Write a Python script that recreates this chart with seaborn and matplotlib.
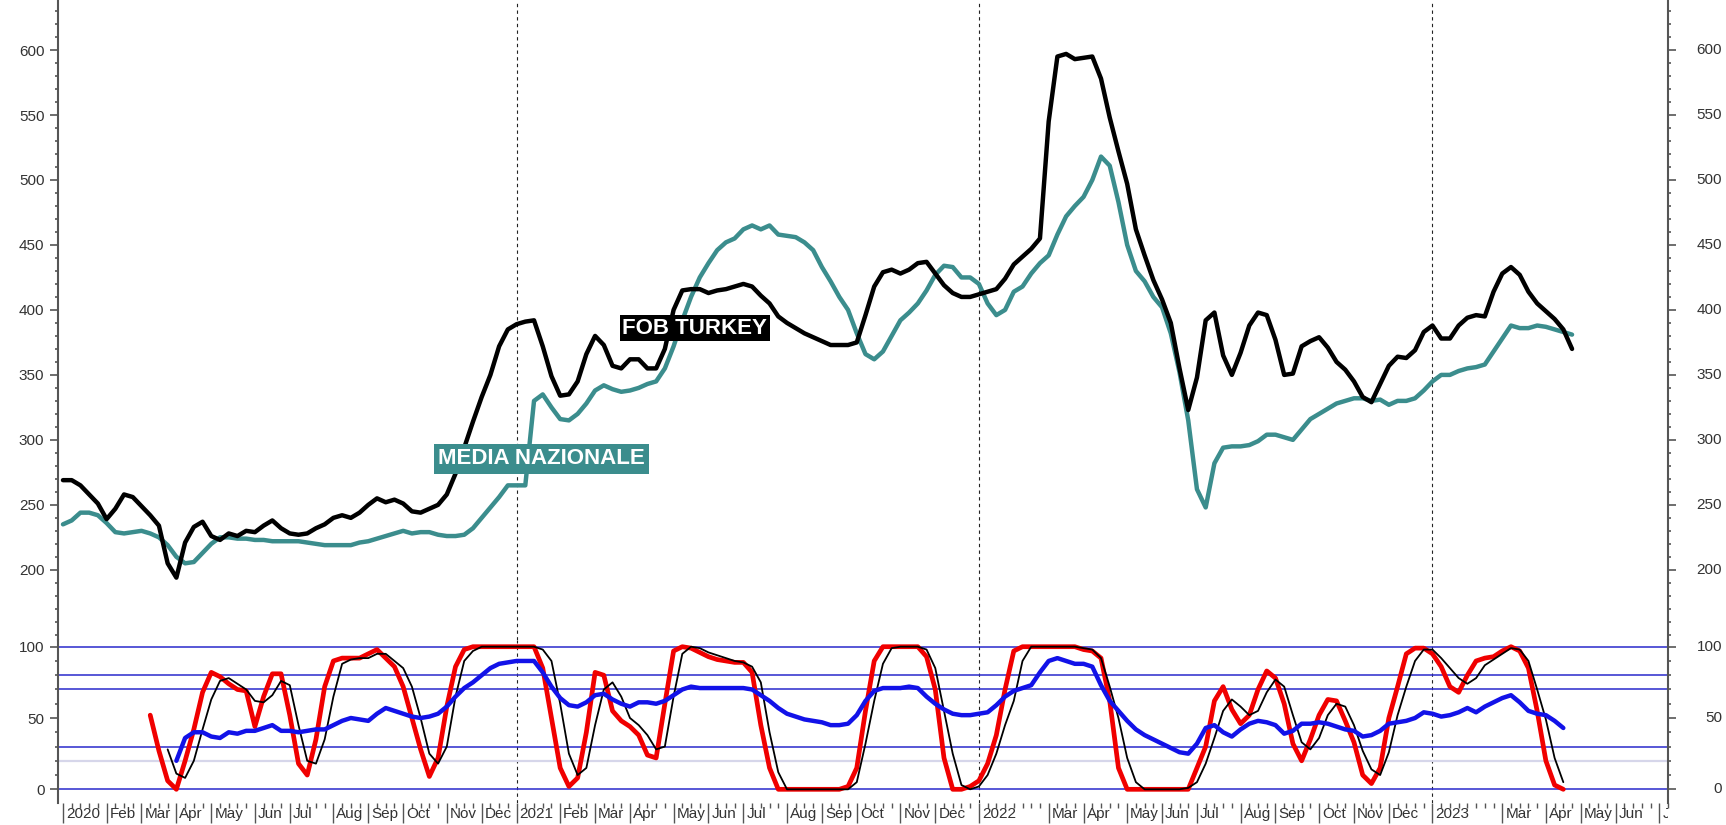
import numpy as np
import pandas as pd
import matplotlib
matplotlib.use("Agg")
import matplotlib.pyplot as plt
import matplotlib.dates as mdates
import matplotlib.transforms as mtransforms
import seaborn as sns

# weekly quotes (fridays)
first_week = "2020-01-03"
last_day = "2023-07-14"

fob_turkey = [
    269, 269, 265, 258, 251, 239, 247, 258, 256, 249,
    242, 234, 205, 194, 221, 233, 237, 226, 223, 228,
    226, 230, 229, 234, 238, 232, 228, 227, 228, 232,
    235, 240, 242, 240, 244, 250, 255, 252, 254, 251,
    245, 244, 247, 250, 258, 274, 294, 314, 333, 350,
    372, 385, 389, 391, 392, 372, 349, 334, 335, 345,
    366, 380, 373, 357, 355, 362, 362, 355, 355, 370,
    400, 415, 416, 416, 413, 415, 416, 418, 420, 418,
    411, 405, 395, 390, 386, 382, 379, 376, 373, 373,
    373, 375, 396, 418, 429, 431, 428, 431, 436, 437,
    428, 419, 413, 410, 410, 412, 414, 416, 424, 435,
    441, 447, 455, 545, 595, 597, 593, 594, 595, 578,
    548, 522, 497, 462, 442, 423, 408, 390, 355, 323,
    348, 392, 398, 365, 350, 367, 388, 398, 396, 377,
    350, 351, 372, 376, 379, 371, 360, 354, 345, 333,
    329, 343, 357, 364, 363, 369, 383, 388, 378, 378,
    388, 394, 396, 395, 414, 428, 433, 427, 414, 405,
    399, 393, 385, 370,
]

media_nazionale = [
    235, 238, 244, 244, 242, 236, 229, 228, 229, 230,
    228, 225, 219, 210, 205, 206, 213, 220, 225, 225,
    224, 224, 223, 223, 222, 222, 222, 222, 221, 220,
    219, 219, 219, 219, 221, 222, 224, 226, 228, 230,
    228, 229, 229, 227, 226, 226, 227, 232, 240, 248,
    256, 265, 265, 265, 330, 335, 325, 316, 315, 320,
    328, 338, 342, 339, 337, 338, 340, 343, 345, 355,
    372, 392, 410, 425, 436, 446, 452, 455, 462, 465,
    462, 465, 458, 457, 456, 452, 446, 433, 422, 410,
    400, 382, 366, 362, 368, 380, 392, 398, 405, 415,
    427, 434, 433, 425, 425, 420, 405, 396, 400, 414,
    418, 428, 436, 442, 458, 472, 480, 487, 500, 518,
    511, 483, 450, 430, 422, 410, 402, 382, 352, 315,
    262, 248, 282, 294, 295, 295, 296, 299, 304, 304,
    302, 300, 308, 316, 320, 324, 328, 330, 332, 332,
    330, 331, 327, 330, 330, 332, 338, 345, 350, 350,
    353, 355, 356, 358, 368, 378, 388, 386, 386, 388,
    387, 385, 383, 381,
]

# oscillators (0-100), first value is N weeks after first_week
red_start = 10
osc_red = [
    52, 27, 6, 0, 20, 42, 68, 82, 79, 74,
    70, 69, 44, 65, 81, 81, 52, 18, 10, 35,
    72, 90, 92, 92, 92, 95, 98, 92, 86, 72,
    50, 28, 9, 22, 58, 86, 98, 100, 100, 100,
    100, 100, 100, 100, 100, 85, 50, 15, 2, 8,
    40, 82, 80, 55, 48, 44, 38, 24, 22, 60,
    97, 100, 99, 96, 93, 91, 90, 89, 89, 82,
    45, 15, 0, 0, 0, 0, 0, 0, 0, 0,
    2, 15, 55, 90, 100, 100, 100, 100, 100, 93,
    70, 22, 0, 0, 2, 6, 18, 38, 70, 97,
    100, 100, 100, 100, 100, 100, 100, 98, 97, 92,
    62, 15, 0, 0, 0, 0, 0, 0, 0, 0,
    15, 30, 62, 72, 56, 46, 52, 70, 83, 78,
    60, 32, 20, 35, 52, 63, 62, 48, 33, 10,
    4, 15, 50, 72, 95, 99, 99, 95, 86, 72,
    68, 80, 90, 92, 93, 97, 100, 97, 85, 55,
    20, 3, 0,
]

black_start = 12
osc_black = [
    28, 11, 8, 20, 42, 63, 76, 78,
    74, 70, 62, 61, 66, 76, 73, 45, 20, 18,
    35, 65, 88, 91, 92, 92, 95, 95, 90, 85,
    72, 50, 25, 18, 30, 65, 90, 97, 100, 100,
    100, 100, 100, 100, 100, 98, 90, 60, 25, 10,
    15, 45, 70, 75, 65, 50, 45, 38, 28, 30,
    65, 95, 100, 99, 96, 94, 92, 90, 89, 86,
    75, 40, 12, 0, 0, 0, 0, 0, 0, 0,
    0, 5, 32, 62, 88, 99, 100, 100, 100, 98,
    85, 55, 25, 3, 0, 2, 10, 25, 45, 62,
    90, 100, 100, 100, 100, 100, 100, 99, 98, 92,
    72, 50, 22, 5, 0, 0, 0, 0, 0, 1,
    5, 18, 36, 55, 63, 58, 52, 55, 68, 77,
    72, 52, 33, 28, 36, 52, 60, 58, 45, 27,
    14, 10, 26, 52, 72, 90, 98, 98, 92, 85,
    78, 74, 78, 87, 91, 95, 99, 98, 90, 70,
    49, 22, 5,
]

blue_start = 13
osc_blue = [
    20, 36, 40, 40, 37, 36, 40,
    39, 41, 41, 43, 45, 41, 41, 40, 41, 42,
    42, 45, 48, 50, 49, 48, 53, 57, 55, 53,
    51, 50, 51, 53, 58, 65, 71, 75, 80, 85,
    88, 89, 90, 90, 90, 82, 72, 64, 59, 58,
    61, 66, 67, 63, 60, 58, 61, 61, 60, 62,
    66, 70, 72, 71, 71, 71, 71, 71, 71, 70,
    66, 62, 57, 53, 51, 49, 48, 47, 45, 45,
    46, 52, 62, 69, 71, 71, 71, 72, 71, 65,
    60, 56, 53, 52, 52, 53, 54, 59, 65, 69,
    71, 73, 82, 90, 92, 90, 88, 88, 86, 73,
    62, 55, 48, 42, 38, 35, 32, 29, 26, 25,
    32, 43, 45, 40, 37, 42, 46, 48, 47, 45,
    39, 41, 46, 46, 47, 46, 44, 42, 41, 37,
    38, 41, 46, 47, 48, 50, 54, 53, 51, 52,
    54, 57, 54, 58, 61, 64, 66, 61, 55, 53,
    52, 48, 43,
]

osc_levels = [100, 80, 70, 30, 0]
osc_soft_level = 20
year_lines = ["2021-01-01", "2022-01-07", "2023-01-06"]
price_ticks = list(range(200, 601, 50))
osc_ticks = [0, 50, 100]
no_label_months = ["2022-02", "2023-02"]

W, H = 1726, 825
teal = "#3b8d8d"
grey = "#555555"
txt = "#333333"

all_weeks = pd.date_range(first_week, last_day, freq="7D")
prices = pd.DataFrame({"week": all_weeks[:len(fob_turkey)],
                       "fob": fob_turkey, "media": media_nazionale})


def osc_frame(start, vals):
    return pd.DataFrame({"week": all_weeks[start:start + len(vals)], "val": vals})


sns.set_style("white")
plt.rcParams["font.family"] = ["Liberation Sans", "DejaVu Sans"]

fig = plt.figure(figsize=(W / 100, H / 100), dpi=100)
left, width = 58 / W, 1610 / W
ax = fig.add_axes([left, 1 - 640 / H, width, 640 / H])
ax2 = fig.add_axes([left, 22 / H, width, 163 / H], sharex=ax)

# price panel
sns.lineplot(data=prices, x="week", y="media", ax=ax, color=teal, linewidth=3.2, legend=False)
sns.lineplot(data=prices, x="week", y="fob", ax=ax, color="black", linewidth=3.2, legend=False)

ax.text(pd.Timestamp("2021-03-27"), 386, "FOB TURKEY", color="white", fontsize=16,
        fontweight="bold", va="center", ha="left", zorder=5,
        bbox=dict(boxstyle="square,pad=0.12", fc="black", ec="none"))
ax.text(pd.Timestamp("2020-10-30"), 285.6, "MEDIA NAZIONALE", color="white", fontsize=16,
        fontweight="bold", va="center", ha="left", zorder=5,
        bbox=dict(boxstyle="square,pad=0.2", fc=teal, ec="none"))

# oscillator panel
for lv in osc_levels:
    ax2.axhline(lv, color="#2a2acc", lw=1.1, zorder=1)
ax2.axhline(osc_soft_level, color="#d6d6ea", lw=1.6, zorder=1)

sns.lineplot(data=osc_frame(red_start, osc_red), x="week", y="val", ax=ax2,
             color="#f00000", linewidth=3.4, legend=False)
sns.lineplot(data=osc_frame(black_start, osc_black), x="week", y="val", ax=ax2,
             color="black", linewidth=1.3, legend=False)
sns.lineplot(data=osc_frame(blue_start, osc_blue), x="week", y="val", ax=ax2,
             color="#1212e8", linewidth=3.2, legend=False)

for a in (ax, ax2):
    for d in year_lines:
        a.axvline(pd.Timestamp(d), color="#222222", lw=0.8, ls=(0, (3, 3)), zorder=0)
    a.set_xlabel("")
    a.set_ylabel("")
    a.spines["top"].set_visible(False)
    a.spines["bottom"].set_visible(False)
    for s in ("left", "right"):
        a.spines[s].set_color(grey)
        a.spines[s].set_linewidth(1.5)

ax.set_xlim(pd.Timestamp("2019-12-30"), pd.Timestamp(last_day))
ax.set_ylim(146, 638.5)
ax2.set_ylim(-9.6, 104.7)

ax.set_yticks(price_ticks)
ax.set_yticks(range(150, 640, 10), minor=True)
ax2.set_yticks(osc_ticks)
ax2.set_yticks(range(10, 101, 10), minor=True)
for a, ticks in ((ax, price_ticks), (ax2, osc_ticks)):
    a.tick_params(axis="y", which="both", left=True, right=True, labelleft=True,
                  labelright=False, direction="out", color=grey, width=1.2,
                  labelcolor=txt, labelsize=11, pad=4.0)
    a.tick_params(axis="y", which="major", length=5.8)
    a.tick_params(axis="y", which="minor", length=2.2)
    rt = mtransforms.offset_copy(mtransforms.blended_transform_factory(a.transAxes, a.transData),
                                 fig=fig, x=54, y=0, units="dots")
    for v in ticks:
        a.text(1, v, str(v), transform=rt, ha="right", va="center",
               fontsize=11, color=txt)
ax.tick_params(axis="x", which="both", bottom=False, labelbottom=False)

# month axis
month_ticks, month_labels = [], []
for d in all_weeks:
    if d.day <= 7 and d.strftime("%Y-%m") not in no_label_months:
        month_ticks.append(d)
        month_labels.append(str(d.year) if d.month == 1 else d.strftime("%b"))
ax2.set_xticks(month_ticks)
ax2.set_xticks(all_weeks, minor=True)
ax2.tick_params(axis="x", which="both", bottom=True, labelbottom=False, direction="out",
                color=grey, width=1.0)
ax2.tick_params(axis="x", which="major", length=14.5)
ax2.tick_params(axis="x", which="minor", length=3.6)

lt = mtransforms.offset_copy(mtransforms.blended_transform_factory(ax2.transData, ax2.transAxes),
                             fig=fig, x=3, y=-4, units="dots")
clip = mtransforms.TransformedBbox(mtransforms.Bbox([[left, 0], [left + width, 1]]), fig.transFigure)
for d, lab in zip(month_ticks, month_labels):
    t = fig.text(mdates.date2num(d), 0, lab, transform=lt, ha="left", va="top",
                 fontsize=11, color=txt)
    t.set_clip_box(clip)
    t.set_clip_on(True)

fig.savefig("out.png", dpi=100)
